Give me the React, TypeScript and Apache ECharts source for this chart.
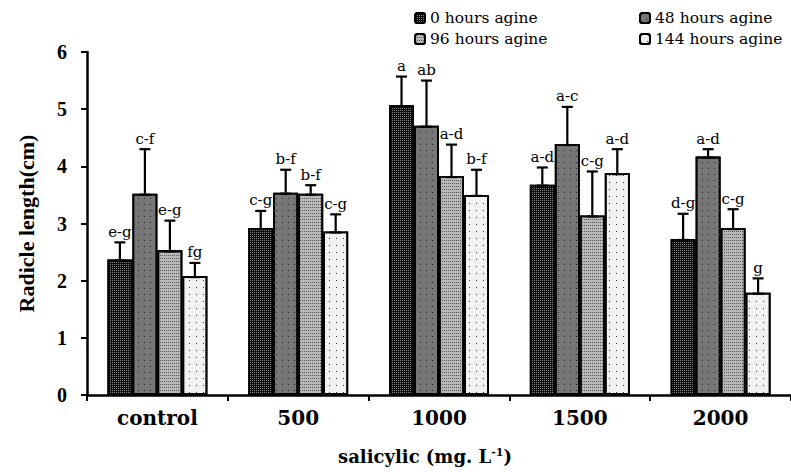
import React, { useEffect, useRef } from "react";
import * as echarts from "echarts";

const categories = ["control", "500", "1000", "1500", "2000"];
const seriesNames = ["0 hours agine", "48 hours agine", "96 hours agine", "144 hours agine"];
const h0 = [2.37, 2.92, 5.07, 3.68, 2.73];
const h48 = [3.52, 3.54, 4.71, 4.39, 4.17];
const h96 = [2.53, 3.52, 3.83, 3.14, 2.92];
const h144 = [2.08, 2.86, 3.5, 3.88, 1.79];
const e0 = [0.3, 0.3, 0.5, 0.3, 0.44];
const e48 = [0.78, 0.4, 0.79, 0.65, 0.13];
const e96 = [0.52, 0.15, 0.55, 0.77, 0.33];
const e144 = [0.23, 0.3, 0.44, 0.42, 0.25];
const l0 = ["e-g", "c-g", "a", "a-d", "d-g"];
const l48 = ["c-f", "b-f", "ab", "a-c", "a-d"];
const l96 = ["e-g", "b-f", "a-d", "c-g", "c-g"];
const l144 = ["fg", "c-g", "b-f", "a-d", "g"];

const values = [h0, h48, h96, h144];
const errors = [e0, e48, e96, e144];
const letters = [l0, l48, l96, l144];

const GAP = 0.29;
const baseColors = ["#0a0a0a", "#777777", "#b8b8b8", "#f2f2f2"];
const decals = [
  { symbol: "rect", symbolSize: 1, color: "#8a8a8a", dashArrayX: [1, 1], dashArrayY: [1, 1] },
  { symbol: "rect", symbolSize: 1, color: "#222222", dashArrayX: [1, 5], dashArrayY: [1, 5] },
  { symbol: "rect", symbolSize: 1, color: "#555555", dashArrayX: [1, 1], dashArrayY: [1, 2] },
  { symbol: "rect", symbolSize: 1, color: "#333333", dashArrayX: [1, 6], dashArrayY: [1, 6] },
];

const SERIF = "DejaVu Serif";

export default function App() {
  const ref = useRef<HTMLDivElement>(null);
  useEffect(() => {
    document.body.style.margin = "0";
    if (!ref.current) return;
    const chart = echarts.init(ref.current, null, { renderer: "svg" });

    const barSeries = seriesNames.map((name, i) => ({
      type: "bar",
      name,
      data: values[i],
      barGap: "0%",
      barCategoryGap: GAP * 100 + "%",
      itemStyle: {
        color: baseColors[i],
        borderColor: "#000",
        borderWidth: 1.8,
        decal: decals[i],
      },
      z: 2,
    }));

    const errSeries = seriesNames.map((name, idx) => ({
      type: "custom",
      z: 5,
      data: categories.map((c, k) => [k, values[idx][k], errors[idx][k]]),
      encode: { x: 0, y: 1 },
      renderItem: (params: any, api: any) => {
        const ci = api.value(0);
        const v = api.value(1);
        const e = api.value(2);
        const base = api.coord([ci, v]);
        const top = api.coord([ci, v + e]);
        const band = api.size([1, 0])[0];
        const bw = (band * (1 - GAP)) / 4;
        const x = base[0] + (idx - 1.5) * bw;
        const cap = 5.5;
        const st = { stroke: "#000", lineWidth: 2.2 };
        return {
          type: "group",
          children: [
            { type: "line", shape: { x1: x, y1: base[1], x2: x, y2: top[1] }, style: st },
            { type: "line", shape: { x1: x - cap, y1: top[1], x2: x + cap, y2: top[1] }, style: st },
            { type: "line", shape: { x1: x - cap, y1: base[1] + 1, x2: x + cap, y2: base[1] + 1 }, style: st },
            {
              type: "text",
              style: {
                text: letters[idx][ci],
                x: x,
                y: top[1] - 3,
                align: "center",
                verticalAlign: "bottom",
                fontFamily: SERIF,
                fontSize: 15,
                fill: "#000",
              },
            },
          ],
        };
      },
    }));

    chart.setOption({
      animation: false,
      backgroundColor: "#fff",
      legend: seriesNames.map((n, i) => ({
        data: [n],
        left: i % 2 === 0 ? 409 : 634,
        top: i < 2 ? 5 : 26,
        itemWidth: 10,
        itemHeight: 10,
        itemGap: 0,
        selectedMode: false,
        textStyle: { fontFamily: SERIF, fontSize: 15.5, color: "#000" },
      })),
      grid: { left: 87, right: 0, top: 52, bottom: 77 },
      xAxis: {
        type: "category",
        data: categories,
        axisLine: { lineStyle: { color: "#000", width: 2.5 } },
        axisTick: { show: true, length: 6, lineStyle: { color: "#000", width: 2 } },
        axisLabel: { color: "#000", fontFamily: SERIF, fontWeight: "bold", fontSize: 20, margin: 13 },
        name: "{a|salicylic (mg. L}{s|-1}{a|)}",
        nameLocation: "middle",
        nameGap: 52,
        nameTextStyle: {
          padding: [0, 28, 0, 0],
          rich: {
            a: { fontFamily: SERIF, fontWeight: "bold", fontSize: 18, color: "#000" },
            s: { fontFamily: SERIF, fontWeight: "bold", fontSize: 11, color: "#000", verticalAlign: "top", padding: [0, 0, 8, 0] },
          },
        },
      },
      yAxis: {
        type: "value",
        min: 0,
        max: 6,
        interval: 1,
        splitLine: { show: false },
        axisLine: { show: true, lineStyle: { color: "#000", width: 2.5 } },
        axisTick: { show: true, length: 6, lineStyle: { color: "#000", width: 2 } },
        axisLabel: { color: "#000", fontFamily: "Liberation Serif", fontWeight: "bold", fontSize: 20, margin: 20 },
        name: "Radicle length(cm)",
        nameLocation: "middle",
        nameGap: 50,
        nameTextStyle: { fontFamily: "Liberation Serif", fontWeight: "bold", fontSize: 22, color: "#000" },
      },
      series: [...barSeries, ...errSeries],
    });
    return () => chart.dispose();
  }, []);
  return <div ref={ref} style={{ width: 791, height: 472 }} />;
}
